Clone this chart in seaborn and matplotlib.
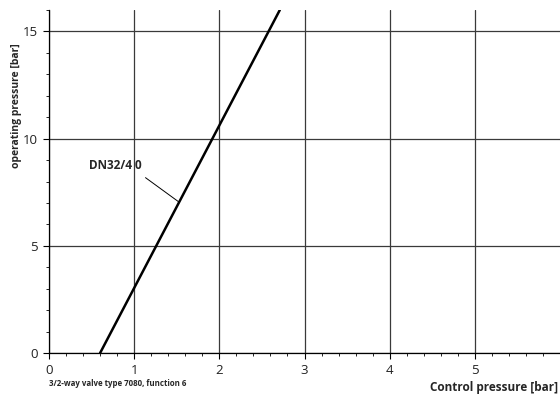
import matplotlib
matplotlib.use("Agg")
import matplotlib.pyplot as plt
from matplotlib.ticker import MultipleLocator
import seaborn as sns
import pandas as pd

# data
control_pressure = [0.6, 2.71]
operating_pressure = [0.0, 16.0]
curve_label = "DN32/4 0"
x_ticks = [0, 1, 2, 3, 4, 5]
y_ticks = [0, 5, 10, 15]

sns.set_theme(style="white")
plt.rcParams['font.family'] = ['Open Sans', 'DejaVu Sans']

df = pd.DataFrame({"x": control_pressure, "y": operating_pressure})

fig = plt.figure(figsize=(5.6, 3.94), dpi=100)
ax = fig.add_axes([0.0875, 0.104, 0.9125, 0.8706])

sns.lineplot(data=df, x="x", y="y", ax=ax, color="black", linewidth=1.8)

ax.set_xlim(0, 6)
ax.set_ylim(0, 16)
ax.set_xticks(x_ticks)
ax.set_yticks(y_ticks)
ax.xaxis.set_minor_locator(MultipleLocator(0.2))
ax.yaxis.set_minor_locator(MultipleLocator(1))
ax.grid(True, which="major", color="#3a3a3a", linewidth=0.9)
ax.set_axisbelow(True)

for s in ["top", "right"]:
    ax.spines[s].set_visible(False)
for s in ["left", "bottom"]:
    ax.spines[s].set_color("black")
    ax.spines[s].set_linewidth(0.9)

ax.tick_params(which="major", direction="out", length=4, width=0.8, color="black",
               labelsize=9.5, pad=4, left=True, bottom=True, labelcolor="#222222")
ax.tick_params(which="minor", direction="out", length=2, width=0.6, color="black",
               left=True, bottom=True)

ax.set_xlabel("")
ax.set_ylabel("")

ax.text(1.086, 8.75, curve_label, fontsize=8.5, fontweight="bold", ha="right", va="center")
ax.annotate("", xy=(1.52, 7.06), xytext=(1.133, 8.18),
            arrowprops=dict(arrowstyle="-", color="black", lw=0.7, shrinkA=0, shrinkB=0))

fig.text(17/560, 1-106/394, "operating pressure [bar]", fontsize=7.5, fontweight="bold",
         rotation=90, ha="center", va="center")
fig.text(49/560, 1-384/394, "3/2-way valve type 7080, function 6", fontsize=5.7,
         fontweight="bold", ha="left", va="center")
fig.text(558/560, 1-387/394, "Control pressure [bar]", fontsize=8.5,
         fontweight="bold", ha="right", va="center")

fig.savefig("out.png", dpi=100)
